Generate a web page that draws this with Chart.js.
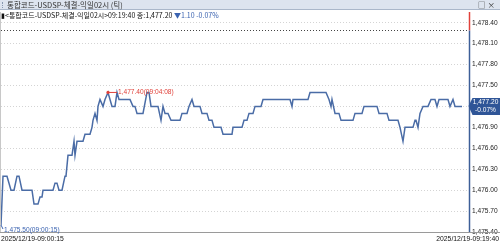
<!DOCTYPE html>
<html>
<head>
<meta charset="utf-8">
<script src="https://cdn.jsdelivr.net/npm/chart.js@4.4.1/dist/chart.umd.min.js"></script>
<style>
  html, body { margin: 0; padding: 0; background: #fff; }
  #wrap { position: relative; width: 500px; height: 246px; overflow: hidden; }
  #myChart { position: absolute; left: 0; top: 0; }
  #titleBar {
    position: absolute; left: 0; top: 0; width: 500px; height: 9px;
    background: #dde4ef; border-bottom: 1px solid #aab7ca;
    font: 7.5px 'Noto Sans CJK KR', sans-serif; color: #333; line-height: 9px;
  }
  #titleBar .grip { position: absolute; left: 2px; top: 2px; width: 1px; height: 6px; border-left: 1px dotted #8898b0; }
  #titleBar .txt { position: absolute; left: 7px; top: 0; }
  #titleBar .btns { position: absolute; right: 3px; top: 0; letter-spacing: 2px; }
  #info {
    position: absolute; left: 1px; top: 10px; white-space: nowrap;
    font: 7px 'Noto Sans CJK KR', sans-serif; color: #111; line-height: 10px;
  }
  #info .dn { color: #3b63b0; }
</style>
</head>
<body>
<div id="wrap">
  <canvas id="myChart" width="500" height="246"></canvas>
  <div id="titleBar"><span class="grip"></span><span class="txt">통합코드-USDSP-체결-익일02시 (틱)</span><span class="btns">□×</span></div>
  <div id="info">▮&lt;통합코드-USDSP-체결-익일02시&gt;09:19:40 종:1,477.20 <span class="dn">▼1.10 -0.07%</span></div>
</div>
<script>
// trade sequence number and price for each change in the tick line
const seqNo = [0,2,6,10,13,16,18,21,31,33,37,39,41,42,52,54,56,58,61,64,
    65,67,71,73,74,76,82,84,89,91,92,94,96,97,99,102,104,107,111,114,
    116,118,129,132,134,136,142,146,148,150,157,160,162,164,167,170,179,181,186,188,
    191,193,199,201,206,208,211,213,220,222,231,232,241,243,246,248,252,254,260,262,
    289,291,292,307,309,325,328,330,331,334,338,340,352,354,361,363,376,378,386,388,
    397,399,402,404,412,414,415,417,419,422,427,430,434,436,438,447,449,452,454,461];
const prices = [1475.50,1476.20,1476.20,1476.00,1476.00,1476.20,1476.20,1476.00,1476.00,1475.80,1475.80,1475.90,1475.90,1476.00,1476.00,1476.10,1476.10,1476.00,1476.00,1476.20,
    1476.20,1476.50,1476.50,1476.70,1476.50,1476.70,1476.70,1476.80,1476.80,1476.90,1477.00,1477.10,1477.00,1477.20,1477.30,1477.20,1477.30,1477.40,1477.20,1477.20,
    1477.40,1477.30,1477.30,1477.20,1477.20,1477.10,1477.10,1477.40,1477.40,1477.20,1477.20,1477.00,1477.20,1477.10,1477.10,1477.00,1477.00,1477.10,1477.10,1477.20,
    1477.30,1477.20,1477.20,1477.10,1477.10,1477.00,1477.00,1476.90,1476.90,1476.80,1476.80,1476.90,1476.90,1477.00,1477.00,1477.10,1477.10,1477.20,1477.20,1477.30,
    1477.30,1477.20,1477.30,1477.30,1477.40,1477.40,1477.30,1477.20,1477.30,1477.10,1477.10,1477.00,1477.00,1477.10,1477.10,1477.20,1477.20,1477.10,1477.10,1477.00,
    1477.00,1476.90,1476.70,1476.90,1476.90,1477.00,1477.00,1476.90,1477.10,1477.20,1477.20,1477.30,1477.30,1477.20,1477.30,1477.30,1477.20,1477.30,1477.20,1477.20];
const yTicks = [1475.40,1475.70,1476.00,1476.30,1476.60,1476.90,1477.20,1477.50,1477.80,1478.10,1478.40];
const prevClose = 1478.30;
const lastPrice = 1477.20;
const lastChangePct = '-0.07%';
const highTime = '09:04:08';
const lowTime = '09:00:15';
const startLabel = '2025/12/19-09:00:15';
const endLabel = '2025/12/19-09:19:40';

const axisFont = "'Liberation Sans', Arial, sans-serif";
const fmt = v => v.toLocaleString('en-US', {minimumFractionDigits: 2, maximumFractionDigits: 2});

const overlay = {
    id: 'overlay',
    afterDatasetsDraw(chart) {
        const ctx = chart.ctx;
        const a = chart.chartArea;
        const xs = chart.scales.x, ys = chart.scales.y;
        ctx.save();

        // previous close level
        const yPrev = Math.round(ys.getPixelForValue(prevClose)) + 0.5;
        ctx.strokeStyle = '#444';
        ctx.lineWidth = 1;
        ctx.setLineDash([1, 2]);
        ctx.beginPath(); ctx.moveTo(a.left, yPrev); ctx.lineTo(a.right, yPrev); ctx.stroke();
        ctx.setLineDash([]);

        // frame lines
        ctx.strokeStyle = '#c8c8c8';
        ctx.beginPath(); ctx.moveTo(0.5, a.top); ctx.lineTo(0.5, a.bottom); ctx.stroke();
        ctx.strokeStyle = '#9a9a9a';
        ctx.beginPath(); ctx.moveTo(0, a.bottom + 0.5); ctx.lineTo(500, a.bottom + 0.5); ctx.stroke();

        // right axis line, red above previous close, blue below
        const xr = Math.round(a.right) + 0.5;
        ctx.lineWidth = 1.5;
        ctx.strokeStyle = '#e0413a';
        ctx.beginPath(); ctx.moveTo(xr, a.top); ctx.lineTo(xr, yPrev); ctx.stroke();
        ctx.strokeStyle = '#3d5f98';
        ctx.beginPath(); ctx.moveTo(xr, yPrev); ctx.lineTo(xr, a.bottom); ctx.stroke();

        // high annotation
        const hi = Math.max(...prices);
        const hiIdx = prices.indexOf(hi);
        const hx = xs.getPixelForValue(seqNo[hiIdx]), hy = ys.getPixelForValue(hi);
        ctx.fillStyle = '#e0413a';
        ctx.strokeStyle = '#e0413a';
        ctx.lineWidth = 1;
        ctx.beginPath(); ctx.arc(hx, hy, 1.6, 0, Math.PI * 2); ctx.fill();
        ctx.beginPath(); ctx.moveTo(hx, hy); ctx.lineTo(hx + 9, hy); ctx.stroke();
        ctx.font = '6.6px ' + axisFont;
        ctx.textBaseline = 'middle';
        ctx.textAlign = 'left';
        ctx.fillText(fmt(hi) + '(' + highTime + ')', hx + 10, hy);

        // low annotation
        const lo = Math.min(...prices);
        const loIdx = prices.indexOf(lo);
        const lx = xs.getPixelForValue(seqNo[loIdx]), ly = ys.getPixelForValue(lo);
        ctx.strokeStyle = '#3b63b0';
        ctx.beginPath(); ctx.moveTo(lx, ly); ctx.lineTo(lx + 2, ly + 4); ctx.stroke();
        ctx.fillStyle = '#3b63b0';
        ctx.fillText(fmt(lo) + '(' + lowTime + ')', lx + 3, ly + 5);

        // current price box
        const cy = Math.round(ys.getPixelForValue(lastPrice));
        ctx.fillStyle = '#2f5597';
        ctx.beginPath();
        ctx.moveTo(xr - 1, cy);
        ctx.lineTo(xr + 3, cy - 8);
        ctx.lineTo(500, cy - 8);
        ctx.lineTo(500, cy + 9);
        ctx.lineTo(xr + 3, cy + 9);
        ctx.closePath();
        ctx.fill();
        ctx.fillStyle = '#fff';
        ctx.textAlign = 'center';
        ctx.font = '6.6px ' + axisFont;
        ctx.fillText(fmt(lastPrice), xr + 16, cy - 3.5);
        ctx.fillText(lastChangePct, xr + 16, cy + 4.5);

        // bottom date labels
        ctx.fillStyle = '#111';
        ctx.font = '6.8px ' + axisFont;
        ctx.textAlign = 'left';
        ctx.fillText(startLabel, 1, a.bottom + 7.5);
        ctx.textAlign = 'right';
        ctx.fillText(endLabel, 499, a.bottom + 7.5);
        ctx.restore();
    }
};

const data = {
    datasets: [{
        data: seqNo.map((s, i) => ({x: s, y: prices[i]})),
        borderColor: '#4a6ca6',
        borderWidth: 1.5,
        pointRadius: 0,
        tension: 0,
    }]
};

const config = {
    type: 'line',
    data: data,
    plugins: [overlay],
    options: {
        responsive: false,
        animation: false,
        events: [],
        layout: { padding: { top: 12, bottom: 14, left: 1, right: 0 } },
        plugins: { legend: { display: false }, tooltip: { enabled: false } },
        scales: {
            x: {
                type: 'linear',
                min: 0,
                max: 468,
                display: false,
            },
            y: {
                position: 'right',
                min: 1475.40,
                max: 1478.553,
                afterBuildTicks: axis => { axis.ticks = yTicks.map(v => ({value: v})); },
                afterFit: axis => { axis.width = 31; },
                border: { display: false, dash: [1, 2] },
                grid: { color: '#d4d4d4', drawTicks: false },
                ticks: {
                    padding: 3,
                    color: '#222',
                    font: { family: axisFont, size: 6.6 },
                    callback: v => fmt(v),
                }
            }
        }
    },
};

const myChart = new Chart(document.getElementById('myChart'), config);
</script>
</body>
</html>
